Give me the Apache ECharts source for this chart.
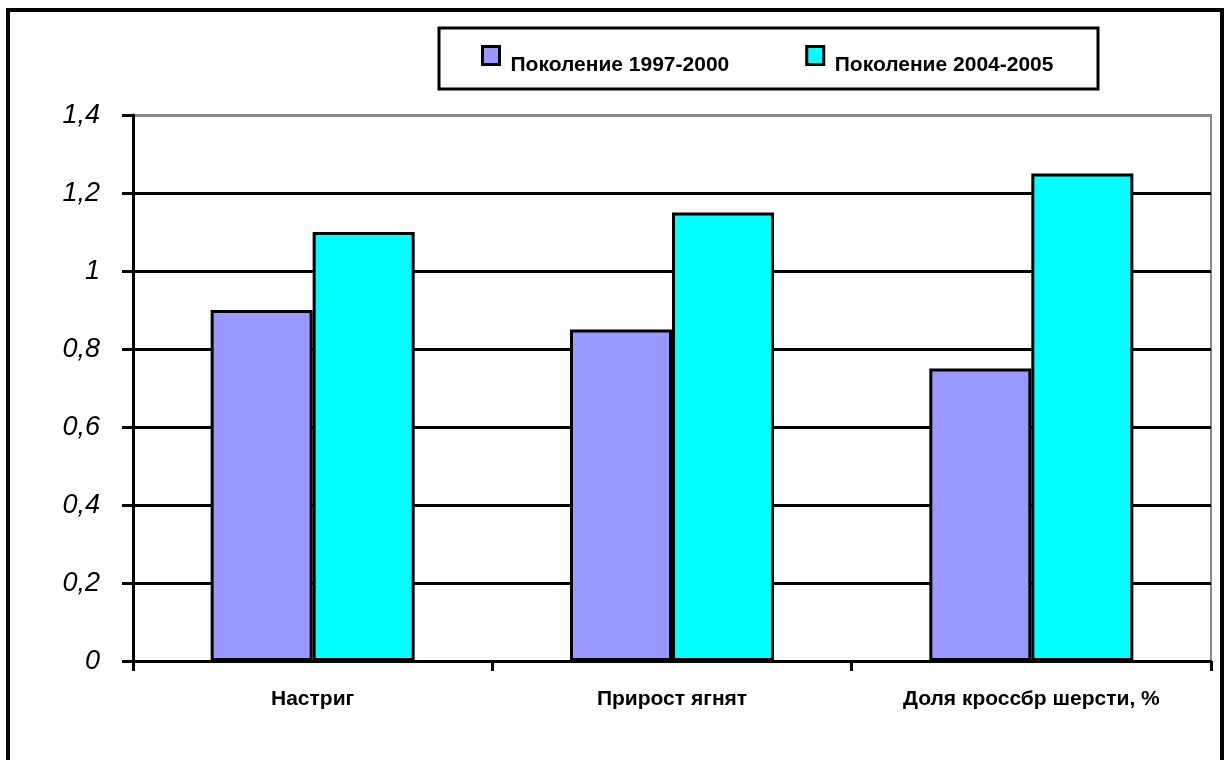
<!DOCTYPE html>
<html>
<head>
<meta charset="utf-8">
<script src="https://cdn.jsdelivr.net/npm/echarts@6/dist/echarts.min.js"></script>
<style>
  html, body { margin: 0; padding: 0; background: #fff; }
  #chart { width: 1226px; height: 760px; }
</style>
</head>
<body>
<div id="chart"></div>
<script>
// категории и значения
const categories = ['Настриг', 'Прирост ягнят', 'Доля кроссбр шерсти, %']
const gen1Name = 'Поколение 1997-2000'
const gen2Name = 'Поколение 2004-2005'
const gen1 = [0.9, 0.85, 0.75]
const gen2 = [1.1, 1.15, 1.25]

const myChart = echarts.init(document.getElementById('chart'))

const option = {
  backgroundColor: '#fff',
  animation: false,
  graphic: [
    // внешняя рамка
    {
      type: 'rect',
      shape: { x: 8, y: 10, width: 1214, height: 800 },
      style: { fill: 'none', stroke: '#000', lineWidth: 4 },
      z: 100
    },
    // рамка легенды
    {
      type: 'rect',
      shape: { x: 439, y: 28, width: 659, height: 61 },
      style: { fill: '#fff', stroke: '#000', lineWidth: 3 },
      z: 1
    }
  ],
  legend: {
    left: 476,
    top: 30,
    itemWidth: 17,
    itemHeight: 18,
    itemGap: 76,
    icon: 'rect',
    z: 10,
    itemStyle: { borderColor: '#000', borderWidth: 3 },
    formatter: '{t|{name}}',
    textStyle: {
      rich: {
        t: {
          fontFamily: '"Liberation Sans", sans-serif',
          fontWeight: 'bold',
          fontSize: 21,
          color: '#000',
          lineHeight: 22,
          padding: [20, 0, 0, 6]
        }
      }
    },
    data: [gen1Name, gen2Name]
  },
  grid: {
    left: 133,
    right: 15,
    top: 115,
    bottom: 99,
    show: true,
    borderColor: '#888',
    borderWidth: 2
  },
  xAxis: {
    type: 'category',
    data: categories,
    axisLine: { lineStyle: { color: '#000', width: 3 } },
    axisTick: { show: true, length: 10, lineStyle: { color: '#000', width: 3 } },
    axisLabel: {
      margin: 28,
      fontFamily: '"Liberation Sans", sans-serif',
      fontWeight: 'bold',
      fontSize: 21,
      color: '#000'
    }
  },
  yAxis: {
    type: 'value',
    min: 0,
    max: 1.4,
    interval: 0.2,
    axisLine: { show: true, lineStyle: { color: '#000', width: 3 } },
    axisTick: { show: true, length: 11, lineStyle: { color: '#000', width: 3 } },
    splitLine: {
      show: true,
      lineStyle: {
        color: ['#000', '#000', '#000', '#000', '#000', '#000', '#000', '#888'],
        width: 3
      }
    },
    axisLabel: {
      margin: 33,
      fontFamily: '"Liberation Sans", sans-serif',
      fontStyle: 'italic',
      fontSize: 27,
      color: '#000',
      formatter: v => String(Math.round(v * 10) / 10).replace('.', ',')
    }
  },
  series: [
    {
      name: gen1Name,
      type: 'bar',
      data: gen1,
      barWidth: 102,
      barGap: '0%',
      itemStyle: { color: '#9999ff', borderColor: '#000', borderWidth: 3 }
    },
    {
      name: gen2Name,
      type: 'bar',
      data: gen2,
      barWidth: 102,
      itemStyle: { color: '#00ffff', borderColor: '#000', borderWidth: 3 }
    }
  ]
}

myChart.setOption(option)
</script>
</body>
</html>
